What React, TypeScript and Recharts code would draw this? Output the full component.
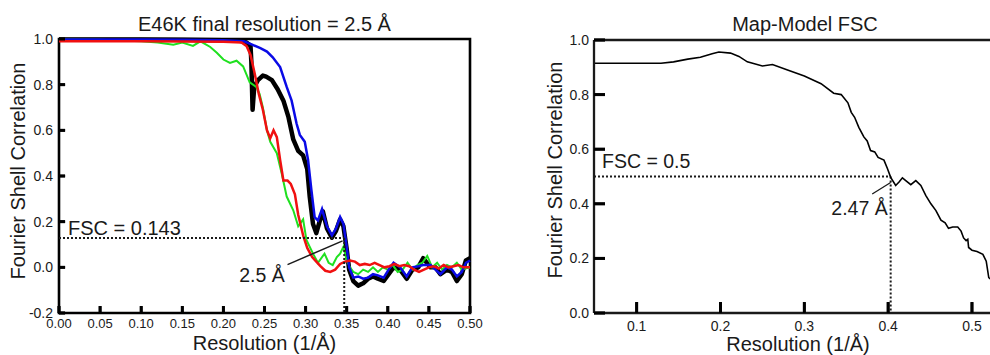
import { LineChart, Line, XAxis, YAxis, ReferenceLine, ReferenceArea } from "recharts";

const FONT = '"Liberation Sans", Arial, Helvetica, sans-serif';
const INK = "#1a1a1a";

// left panel - half map FSC curves
const blackRes = [0, 0.05, 0.1, 0.15, 0.2, 0.22, 0.228, 0.233, 0.234, 0.2355, 0.2375, 0.242, 0.248, 0.252, 0.259, 0.266, 0.273, 0.279, 0.285, 0.291, 0.297, 0.302, 0.305, 0.309, 0.313, 0.317, 0.321, 0.326, 0.332, 0.337, 0.342, 0.346, 0.35, 0.353, 0.358, 0.364, 0.37, 0.376, 0.382, 0.388, 0.395, 0.401, 0.407, 0.415, 0.423, 0.43, 0.437, 0.443, 0.452, 0.458, 0.464, 0.472, 0.478, 0.484, 0.49, 0.495, 0.5];
const blackFsc = [0.998, 0.998, 0.998, 0.997, 0.995, 0.992, 0.985, 0.97, 0.9, 0.69, 0.79, 0.82, 0.84, 0.835, 0.82, 0.78, 0.73, 0.66, 0.56, 0.51, 0.49, 0.43, 0.31, 0.19, 0.15, 0.2, 0.245, 0.17, 0.13, 0.16, 0.21, 0.18, 0.08, -0.01, -0.06, -0.08, -0.07, -0.05, -0.04, -0.05, -0.06, -0.03, 0.0, -0.01, -0.05, -0.01, 0.0, 0.04, 0.0, 0.0, -0.03, -0.01, -0.02, -0.06, -0.03, 0.03, 0.04];

const blueRes = [0, 0.05, 0.1, 0.15, 0.2, 0.225, 0.235, 0.245, 0.253, 0.26, 0.269, 0.277, 0.283, 0.289, 0.293, 0.299, 0.303, 0.307, 0.311, 0.315, 0.32, 0.326, 0.332, 0.337, 0.342, 0.346, 0.35, 0.353, 0.358, 0.364, 0.37, 0.376, 0.382, 0.388, 0.395, 0.401, 0.407, 0.415, 0.423, 0.43, 0.437, 0.443, 0.452, 0.458, 0.464, 0.472, 0.478, 0.484, 0.49, 0.495, 0.5];
const blueFsc = [0.998, 0.998, 0.998, 0.997, 0.995, 0.99, 0.975, 0.96, 0.945, 0.92, 0.877, 0.79, 0.73, 0.63, 0.58, 0.55, 0.47, 0.34, 0.22, 0.205, 0.255, 0.18, 0.14, 0.17, 0.22, 0.19, 0.09, 0.0, -0.045, -0.04, -0.05, -0.045, -0.03, -0.035, -0.045, -0.01, 0.02, 0.0, -0.04, 0.0, 0.005, 0.01, 0.01, -0.01, -0.03, 0.0, -0.01, -0.04, -0.02, 0.02, 0.03];

const redRes = [0, 0.05, 0.1, 0.15, 0.2, 0.222, 0.228, 0.233, 0.238, 0.243, 0.248, 0.253, 0.257, 0.261, 0.265, 0.269, 0.273, 0.278, 0.282, 0.287, 0.291, 0.297, 0.302, 0.308, 0.313, 0.318, 0.324, 0.33, 0.336, 0.342, 0.348, 0.354, 0.36, 0.366, 0.372, 0.378, 0.384, 0.39, 0.396, 0.402, 0.408, 0.414, 0.42, 0.426, 0.432, 0.438, 0.444, 0.45, 0.456, 0.462, 0.468, 0.474, 0.48, 0.486, 0.492, 0.5];
const redFsc = [0.99, 0.99, 0.99, 0.989, 0.988, 0.985, 0.97, 0.93, 0.85, 0.76, 0.69, 0.6, 0.565, 0.6, 0.57, 0.47, 0.38, 0.38, 0.365, 0.32, 0.23, 0.14, 0.085, 0.045, 0.025, 0.005, -0.015, -0.02, -0.01, 0.015, 0.025, 0.03, 0.025, 0.01, 0.015, 0.01, 0.02, 0.01, 0.0, 0.005, 0.015, 0.005, 0.01, 0.005, -0.01, -0.02, -0.01, 0.0, 0.005, -0.005, 0.01, 0.0, 0.005, 0.01, 0.0, 0.0];

const greenRes = [0, 0.05, 0.1, 0.12, 0.139, 0.15, 0.163, 0.172, 0.184, 0.192, 0.2, 0.208, 0.216, 0.224, 0.232, 0.24, 0.244, 0.248, 0.253, 0.257, 0.265, 0.271, 0.277, 0.285, 0.291, 0.297, 0.301, 0.309, 0.315, 0.323, 0.328, 0.333, 0.338, 0.342, 0.346, 0.35, 0.354, 0.358, 0.364, 0.37, 0.376, 0.382, 0.388, 0.394, 0.4, 0.406, 0.412, 0.418, 0.424, 0.43, 0.436, 0.442, 0.448, 0.454, 0.46, 0.466, 0.472, 0.478, 0.484, 0.49, 0.5];
const greenFsc = [0.998, 0.997, 0.99, 0.985, 0.975, 0.985, 0.97, 0.99, 0.965, 0.94, 0.91, 0.895, 0.905, 0.88, 0.81, 0.79, 0.76, 0.7, 0.6, 0.55, 0.5, 0.41, 0.31, 0.25, 0.18, 0.21, 0.12, 0.06, 0.02, 0.06, 0.02, 0.01, 0.045, 0.06, 0.09, 0.03, 0.0, -0.02, -0.03, -0.01, -0.02, 0.0, -0.02, 0.0, -0.01, 0.01, -0.02, -0.01, 0.02, -0.01, 0.01, 0.02, 0.05, 0.0, 0.02, -0.01, 0.01, 0.0, 0.02, -0.01, 0.0];

// right panel - map vs model FSC
const mapRes = [0.0491, 0.08, 0.1, 0.129, 0.144, 0.161, 0.176, 0.19, 0.198, 0.212, 0.222, 0.232, 0.25, 0.262, 0.28, 0.3, 0.32, 0.335, 0.344, 0.352, 0.356, 0.36, 0.365, 0.371, 0.375, 0.379, 0.384, 0.388, 0.395, 0.399, 0.403, 0.409, 0.413, 0.417, 0.421, 0.427, 0.433, 0.439, 0.445, 0.451, 0.457, 0.463, 0.468, 0.472, 0.477, 0.483, 0.487, 0.49, 0.493, 0.495, 0.496, 0.5, 0.506, 0.513, 0.517, 0.52, 0.5215];
const mapFsc = [0.915, 0.915, 0.915, 0.915, 0.92, 0.93, 0.937, 0.95, 0.956, 0.952, 0.94, 0.92, 0.905, 0.91, 0.89, 0.868, 0.84, 0.805, 0.8, 0.77, 0.735, 0.717, 0.68, 0.645, 0.63, 0.595, 0.59, 0.57, 0.56, 0.53, 0.497, 0.467, 0.48, 0.495, 0.485, 0.47, 0.485, 0.467, 0.43, 0.4, 0.375, 0.34, 0.33, 0.31, 0.315, 0.315, 0.3, 0.275, 0.265, 0.27, 0.24, 0.23, 0.225, 0.215, 0.19, 0.13, 0.125];

// ticks
const leftXTicks = [0, 0.05, 0.1, 0.15, 0.2, 0.25, 0.3, 0.35, 0.4, 0.45, 0.5];
const leftYTicks = [-0.2, 0, 0.2, 0.4, 0.6, 0.8, 1.0];
const rightXTicks = [0.1, 0.2, 0.3, 0.4, 0.5];
const rightYTicks = [0, 0.2, 0.4, 0.6, 0.8, 1.0];

// thresholds as drawn
const halfMapCut = { fsc: 0.128, res: 0.347 };
const modelCut = { fsc: 0.5, res: 0.403 };

const toPoints = (res: number[], fsc: number[]) => res.map((r, i) => ({ res: r, fsc: fsc[i] }));
const tickText = (size: number) => ({ fontSize: size, fontFamily: FONT, fill: INK });

const Txt = ({ x, y, size = 20, rotate = false, anchor = "center", children }: any) => (
  <div
    style={{
      position: "absolute",
      left: x,
      top: y,
      transform: `translate(${anchor === "left" ? "0" : "-50%"}, -50%)${rotate ? " rotate(-90deg)" : ""}`,
      fontFamily: FONT,
      fontSize: size,
      lineHeight: 1,
      whiteSpace: "nowrap",
      color: INK,
      pointerEvents: "none",
    }}
  >
    {children}
  </div>
);

export default function App() {
  return (
    <div style={{ position: "absolute", left: 0, top: 0, width: 990, height: 355, background: "#fff", overflow: "hidden" }}>
      <div style={{ position: "absolute", left: 0, top: 0 }}>
        <LineChart width={500} height={355} margin={{ top: 39, right: 30, bottom: 12, left: 15 }}>
          <XAxis
            type="number"
            dataKey="res"
            domain={[0, 0.5]}
            ticks={leftXTicks}
            interval={0}
            height={30}
            axisLine={false}
            tickLine={{ stroke: "#000", strokeWidth: 3 }}
            tickSize={-7}
            tickMargin={12.5}
            tick={tickText(13)}
            tickFormatter={(v: number) => v.toFixed(2)}
          />
          <YAxis
            type="number"
            domain={[-0.2, 1]}
            ticks={leftYTicks}
            interval={0}
            width={44}
            axisLine={false}
            tickLine={{ stroke: "#000", strokeWidth: 3 }}
            tickSize={-6}
            tickMargin={12}
            tick={tickText(14)}
            tickFormatter={(v: number) => v.toFixed(1)}
          />
          {leftXTicks.map((v) => (
            <ReferenceLine key={`lx${v}`} segment={[{ x: v, y: -0.2 }, { x: v, y: -0.17 }]} stroke="#000" strokeWidth={2.6} />
          ))}
          {leftYTicks.map((v) => (
            <ReferenceLine key={`ly${v}`} segment={[{ x: 0, y: v }, { x: 0.0075, y: v }]} stroke="#000" strokeWidth={2.6} />
          ))}
          <Line data={toPoints(blackRes, blackFsc)} dataKey="fsc" stroke="#000" strokeWidth={4.5} dot={false} activeDot={false} isAnimationActive={false} strokeLinejoin="round" />
          <Line data={toPoints(greenRes, greenFsc)} dataKey="fsc" stroke="#1fe01f" strokeWidth={2} dot={false} activeDot={false} isAnimationActive={false} />
          <Line data={toPoints(blueRes, blueFsc)} dataKey="fsc" stroke="#0a0ae6" strokeWidth={2.5} dot={false} activeDot={false} isAnimationActive={false} />
          <Line data={toPoints(redRes, redFsc)} dataKey="fsc" stroke="#f01010" strokeWidth={2.5} dot={false} activeDot={false} isAnimationActive={false} />
          <ReferenceLine
            segment={[{ x: 0, y: halfMapCut.fsc }, { x: halfMapCut.res, y: halfMapCut.fsc }]}
            stroke={INK}
            strokeWidth={2}
            strokeDasharray="2 2"
          />
          <ReferenceLine
            segment={[{ x: halfMapCut.res, y: halfMapCut.fsc }, { x: halfMapCut.res, y: -0.2 }]}
            stroke={INK}
            strokeWidth={2}
            strokeDasharray="2 2"
          />
          <ReferenceLine
            segment={[{ x: halfMapCut.res - 0.002, y: halfMapCut.fsc - 0.012 }, { x: 0.278, y: 0.012 }]}
            stroke={INK}
            strokeWidth={1.5}
          />
          <ReferenceArea x1={0} x2={0.5} y1={-0.2} y2={1} fill="none" stroke="#000" strokeWidth={2.6} />
        </LineChart>
      </div>

      <div style={{ position: "absolute", left: 500, top: 0 }}>
        <LineChart width={490} height={355} margin={{ top: 40, right: 0, bottom: 12, left: 24 }}>
          <XAxis
            type="number"
            dataKey="res"
            domain={[0.0491, 0.5215]}
            ticks={rightXTicks}
            interval={0}
            height={30}
            axisLine={{ stroke: INK, strokeWidth: 2.3 }}
            tickLine={{ stroke: "#000", strokeWidth: 3 }}
            tickSize={-11}
            tickMargin={19}
            tick={tickText(14)}
            tickFormatter={(v: number) => v.toFixed(1)}
          />
          <YAxis
            type="number"
            domain={[0, 1]}
            ticks={rightYTicks}
            interval={0}
            width={70}
            axisLine={{ stroke: INK, strokeWidth: 2.3 }}
            tickLine={{ stroke: "#000", strokeWidth: 3 }}
            tickSize={-11}
            tickMargin={16}
            tick={tickText(14)}
            tickFormatter={(v: number) => v.toFixed(1)}
          />
          {rightXTicks.map((v) => (
            <ReferenceLine key={`rx${v}`} segment={[{ x: v, y: 0 }, { x: v, y: 0.039 }]} stroke="#000" strokeWidth={2.6} />
          ))}
          {rightYTicks.map((v) => (
            <ReferenceLine key={`ry${v}`} segment={[{ x: 0.0491, y: v }, { x: 0.0622, y: v }]} stroke="#000" strokeWidth={2.6} />
          ))}
          <ReferenceLine y={1} stroke={INK} strokeWidth={2.3} />
          <ReferenceLine
            segment={[{ x: 0.0491, y: modelCut.fsc }, { x: modelCut.res, y: modelCut.fsc }]}
            stroke={INK}
            strokeWidth={2}
            strokeDasharray="2 2"
          />
          <ReferenceLine
            segment={[{ x: modelCut.res, y: modelCut.fsc }, { x: modelCut.res, y: 0 }]}
            stroke={INK}
            strokeWidth={2}
            strokeDasharray="2 2"
          />
          <ReferenceLine
            segment={[{ x: modelCut.res, y: 0.478 }, { x: 0.381, y: 0.436 }]}
            stroke={INK}
            strokeWidth={1.3}
          />
          <Line data={toPoints(mapRes, mapFsc)} dataKey="fsc" stroke="#000" strokeWidth={1.6} dot={false} activeDot={false} isAnimationActive={false} />
        </LineChart>
      </div>

      <Txt x={264.5} y={23.5}>E46K final resolution = 2.5 Å</Txt>
      <Txt x={18} y={171} rotate>Fourier Shell Correlation</Txt>
      <Txt x={264.5} y={343}>Resolution (1/Å)</Txt>
      <Txt x={68} y={228} anchor="left">FSC = 0.143</Txt>
      <Txt x={262} y={276} size={19.5}>2.5 Å</Txt>

      <Txt x={805} y={23.5}>Map-Model FSC</Txt>
      <Txt x={555} y={170} rotate>Fourier Shell Correlation</Txt>
      <Txt x={798} y={344}>Resolution (1/Å)</Txt>
      <Txt x={602} y={162} anchor="left" size={19.5}>FSC = 0.5</Txt>
      <Txt x={859.5} y={209} size={19.5}>2.47 Å</Txt>
    </div>
  );
}
